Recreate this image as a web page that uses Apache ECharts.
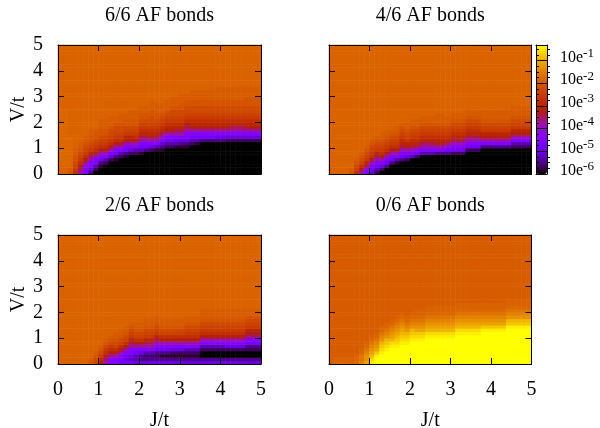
<!DOCTYPE html>
<html><head><meta charset="utf-8">
<style>html,body{margin:0;padding:0;background:#fff}#c{width:600px;height:428px}</style>
<script src="https://cdn.jsdelivr.net/npm/echarts@6/dist/echarts.min.js"></script>
</head><body><div id="c"></div>
<script>
// Titles and tick labels
const panelTitles = ["6/6 AF bonds","4/6 AF bonds","2/6 AF bonds","0/6 AF bonds"];
// Cell levels: letter = position on the colour scale (0 bottom .. 1 top)
const levelLetters = "abcdefghijklmnopqrstuvwABCDEFGH";
const levelValues = [0,.03,.06,.09,.13,.17,.21,.25,.30,.38,.41,.45,.49,.53,.57,.61,.64,.66,.69,.71,.73,.74,.77,.80,.83,.86,.89,.92,.95,.98,1];
// Each panel: 40 columns J=0..5, each column run-length coded from V=0 upward; the last level fills the column up to V=5
const panel66 = ["u3v18u1","u2v18u1","s1t1u2v8u1","o1p1q1r1s2t2u1","j1l1m1o1p1q1r1s1t2u1","h2i1k1m1o1p1q1r1s1t2u1","d1f1h2j1l1n1p1q1r1s2t2u1","a1c1e1h2j1m1o1p1q1r1s2t1u1",
"a2b1d1g1h1j1m1o1p1q1r1s2t3u1","a3c1e1h1j1m1o1p1q1r1s2t3u1","a4c1f1h1j1m1o1p1q1r2s1t3u1","a4b1d1g1h1j1m1o1p1q1r2s1t2u1","a5c1e1h1j1m1o1p1q1r2s1t3u1","a5b1d1g1h1j1m1n1p1q1r1s2t2u1","a6c1f1h1j1m1n1p1q1r1s2t3u1","a6c1e1h1j1m1o1p1q1r1s2t3u1",
"a6b1e1g1h1j1l1n1o1p1q1r1s2t2u1","a7d1g1h1j1l1n1o1p1q1r1s2t2u1","a7c1f1h1j1m1n1o1p1q1r2s2t3u1","a7b1e1h1j1l1n1o1p1q1r1s2t3u1","a7b1d1f1h1j1l1n1o1p1q1r1s1t3u1","a8c1e1g1h1j1m1n1o1p1q1r1s1t3u1","a8c1e1g1h1j1m1n1o1p1q1r2s1t3u1","a8b1e1f1h1j1l1n1o1p1q1r2s1t3u1",
"a8b1d1f1h1j1l1n1o1p1q1r2s2t3u1","a8b1d1f1h2j1l1m1o1p1q1r2s2t2u1","a9c1e1g1h1j1m1n1o1p1q1r2s2t3u1","a9b1e1g1h1j1m1n1o1p1q1r2s2t3u1","a10d1g1h1j1m1n1o1p1q1r2s2t3u1","a10d1g1h1j1m1n1o1p1q1r2s2t3u1","a10d1g1h1j1m1n1o1p1q1r2s2t3u1","a10d1f1h1j1m1n1o1p1q1r2s2t4u1",
"a10d1f1h1j1m1n1o1p1q1r2s2t4u1","a10c1f1h1j1m1n1o1p1q1r2s2t4u1","a10c1f1h1j1l1n1o1p1q1r2s2t4u1","a10c1f1h1j1l1n1o1p1q1r2s2t4u1","a10c1f1h1j1l1n1o1p1q1r2s2t4u1","a10c1f1h1j1m1n1o1p1q1r2s3t3u1","a10c1f1h1j1m1n1o1p1q1r2s3t3u1","a10c1f1h1j1m1n1o1p1q1r2s3t3u1"];
const panel46 = ["u1","u1","u1","u1","s1t1u1","o1q1r1s1t1u1","j1m1o1q1r1s1t1u1","h1i1l1n1p1q1r1s1t1u1",
"f1g1h1j1m1o1p1q1r1s1t1u1","c1e1g1h1j1l1n1p1q1r1s1t1u1","a1c1f1h1j1m1o1p1q1r1s1t2u1","a2d1g1h1j1m1o1p1q1r1s1t2u1","a3d1g1h1j1m1o1p1q1r1s1t1u1","a3b1e1h1j1m1o1p1q1r1s1t2u1","a4d1g1h1j1l1n1o1p1q1r1s1t1u1","a4c1f1h1j1m1n1p1q1r1s1t2u1",
"a5e1h1j1l1n1o1p1q1r1s1t2u1","a5c1g1i1l1n1o1p1q1r1s1t2u1","a6e1h1j1l1n1o1p1q1r1s1t2u1","a6e1h1j1l1n1o1p1q1r1s1t2u1","a6e1h1j1l1n1o1p1q1r1s1t2u1","a6d1h1j1m1n1o1p1q1r1s1t3u1","a6d1h1j1m1n1o1p1q1r1s1t3u1","a6d1g1i1l1n1o1p1q1r1s1t2u1",
"a6c1g1h1j1l1n1o1p1q1r1s1t2u1","a6c1g1h1j1l1n1o1p1q1r1s1t2u1","a6c1g1h1j1l1n1o1p1q1r1s1t2u1","a7c1g1h1j1l1n1o1p1q1r1s1t2u1","a7c1g1h1j1l1n1o1p1q1r1s1t2u1","a7c1g1h1j1l1n1o1p1q1r1s1t2u1","a8d1h1j1m1n1p1q1r1s1t3u1","a8d1h1j1m1n1p1q1r1s1t3u1",
"a8d1h1j1m1n1p1q1r1s1t3u1","a8d1h1j1m1n1p1q1r1s1t3u1","a8d1h1j1m1n1p1q1r1s1t3u1","a8d1h1j1m1n1p1q1r1s1t3u1","a8c1e1h1j1m1n1p1q1r1s1t3u1","a8c1e1h1j1m1n1p1q1r1s1t3u1","a8c1e1h1j1m1n1p1q1r1s1t3u1","a8c1e1h1j1m1n1p1q1r1s1t3u1"];
const panel26 = ["u1","u1","u1","u1","u1","u1","s1t1u1","q1r1s1t1u1",
"m1o1p1r1s1t1u1","j1k1m1o1p1r1s1t1u1","h1i1j1m1o1p1r1s1t1u1","h2j1m1o1q1r1s1t2u1","g1h2j1m1o1q1r1s1t2u1","g1f1g1h1j1m1o1q1r1s1t2u1","g1e1f1h2j1l1n1p1q1r1s1t1u1","f1e2g1h1j1m1o1q1r1s1t2u1",
"f1d2f1h1j1m1o1q1r1s1t2u1","f1d1c1e1h1j1l1n1p1q1r1s1t2u1","f1d1c1e1h1j1l1n1p1q1r1s1t2u1","f1d1c1d1g1h1j1l1n1p1q1r1s1t2u1","f1d1b1d1g1h1j1m1o1q1r1s1t2u1","f1d1b1d1g1h1j1m1o1q1r1s1t2u1","f1d1b1c1f1h1j1m1o1q1r1s1t2u1","f1d1b1c1f1h1j1m1o1q1r1s1t2u1",
"f1d1b1c1f1h1j1m1o1q1r1s1t2u1","f1d1b1c1e1h1j1m1o1p1q1r1s1t2u1","f1d1b1c1e1h1j1m1o1p1q1r1s1t2u1","f1d1b1c1e1h1j1m1o1p1q1r1s1t2u1","f1d1a2c1e1h1j1m1o1p1q1r1s1t3u1","f1d1a2c1e1h1j1m1o1p1q1r1s1t3u1","f1d1a2c1e1h1j1m1o1p1q1r1s1t3u1","f1d1a2c1e1h1j1m1o1p1q1r1s1t3u1",
"f1d1a2c1e1h1j1m1o1p1q1r1s1t3u1","f1d1a2c1f1h1j1m1o1p1q1r1s1t3u1","f1d1a2c1f1h1j1m1o1p1q1r1s1t3u1","f1d1a2c1f1h1j1m1o1p1q1r1s1t3u1","f1d1a2c1f1h1j1m1o1p1q1r1s1t3u1","f1d1a2c1d1g1h1k1m1n1p1q1r1s1t2u1","f1d1a2c1d1g1h1k1m1n1p1q1r1s1t2u1","f1d1a2c1d1g1h1k1m1n1p1q1r1s1t2u1"];
const panel06 = ["t1","v1u1t1","v1u1t1","v1u1t1","u2t1","v2u1t1","A1w2v1u1t1","C1B2A1w1v1u1t1",
"G1F1D1C1B1A1w1v1u1t1","H2G1E1C1B1A1w1v1u1t1","H3G1F1E1D1B1A1w1v1u1t1","H4G1F1E1D1B1A1w1v1u1t1","H5G1F1D1C1B1A1w1v1u1t1","H5G1F1E1D1C1B1A1w1v1u1t1","H6G1F1E1D1C1B1A1w1v1u1t1","H6G1F1E1D1B1A1w1v1u1t1",
"H7G1F1E1D1B1A1w1v1u1t1","H7G1F1E1C1B1A1w1v1u2t1","H7G1F1E1C1B1A1w1v1u2t1","H8G1F1D1C1B1A1w1v1u2t1","H8G1F1D1C1B1A1w1v1u2t1","H8G1F1D1C1B1A1w1v1u2t1","H8G1F1D1C1B1A1w1v1u2t1","H8G1F1D1C1B1A1w1v1u2t1",
"H8G1F1D1C1B1A1w1v1u2t1","H9G1F1D1C1B1A1w1v1u2t1","H9G1F1D1C1B1A1w1v1u2t1","H9G1F1D1C1B1A1w1v1u2t1","H9G1F1D1C1B1A1w1v1u2t1","H9G1F1D1C1B1A1w1v1u2t1","H10G1E1C1B1A1w1v1u2t1","H10G1E1C1B1A1w1v1u2t1",
"H10G1E1C1B1A1w1v1u2t1","H10G1E1C1B1A1w1v1u2t1","H10G1E1C1B1A1w1v1u2t1","H11G1E1D1B1A1w1v1u2t1","H11G1E1D1B1A1w1v1u2t1","H11G1E1D1B1A1w1v1u2t1","H11G1E1D1B1A1w1v1u2t1","H11G1E1D1B1A1w1v1u2t1"];

const FONT = "Liberation Serif";
const panels = [panel66, panel46, panel26, panel06];
const gridBoxes = [
  {left:58,top:45,width:203,height:129},
  {left:329,top:45,width:202.5,height:129},
  {left:58,top:235,width:203,height:129},
  {left:329,top:235,width:202.5,height:129}
];
const cats = Array.from({length:40},(_,i)=>String(i));
function decode(cols){
  const out=[];
  cols.forEach((col,x)=>{
    let y=0, last=null;
    for(const m of col.matchAll(/([A-Za-z])(\d+)/g)){
      last=levelValues[levelLetters.indexOf(m[1])];
      for(let k=0;k<+m[2]&&y<40;k++){ out.push([x,y,last]); y++; }
    }
    while(y<40){ out.push([x,y,last]); y++; }
  });
  return out;
}
// gnuplot's traditional pm3d palette 7,5,15
const palette=[];
for(let i=0;i<=128;i++){
  const t=i/128, r=Math.sqrt(t), g=t*t*t, b=Math.max(0,Math.sin(2*Math.PI*t));
  palette.push("rgb("+Math.round(r*255)+","+Math.round(g*255)+","+Math.round(b*255)+")");
}
const tickLine={show:true,inside:true,length:6,lineStyle:{color:"#000",width:1}};
const frame={show:true,onZero:false,lineStyle:{color:"#000",width:1}};
const xAxes=[],yAxes=[],series=[],titles=[];
gridBoxes.forEach((g,i)=>{
  const bottomRow=i>=2, leftCol=i%2===0;
  xAxes.push({type:"category",gridIndex:i,data:cats,show:false});
  yAxes.push({type:"category",gridIndex:i,data:cats,show:false});
  xAxes.push({type:"value",gridIndex:i,position:"bottom",min:0,max:5,interval:1,z:5,splitLine:{show:false},
    axisLine:frame,axisTick:tickLine,
    axisLabel:{show:bottomRow,margin:16,fontFamily:FONT,fontSize:20,color:"#000"},
    name:bottomRow?"J/t":"",nameLocation:"middle",nameGap:47,nameTextStyle:{fontFamily:FONT,fontSize:20,color:"#000"}});
  xAxes.push({type:"value",gridIndex:i,position:"top",min:0,max:5,interval:1,z:5,splitLine:{show:false},
    axisLine:frame,axisTick:tickLine,axisLabel:{show:false}});
  yAxes.push({type:"value",gridIndex:i,position:"left",min:0,max:5,interval:1,z:5,splitLine:{show:false},
    axisLine:frame,axisTick:tickLine,
    axisLabel:{show:leftCol,margin:15,fontFamily:FONT,fontSize:20,color:"#000"},
    name:leftCol?"V/t":"",nameLocation:"middle",nameRotate:90,nameGap:29,nameTextStyle:{fontFamily:FONT,fontSize:20,color:"#000"}});
  yAxes.push({type:"value",gridIndex:i,position:"right",min:0,max:5,interval:1,z:5,splitLine:{show:false},
    axisLine:frame,axisTick:tickLine,axisLabel:{show:false}});
  series.push({type:"heatmap",xAxisIndex:3*i,yAxisIndex:3*i,data:decode(panels[i]),
    itemStyle:{borderWidth:0},emphasis:{disabled:true},animation:false,z:2});
  titles.push({text:panelTitles[i],left:g.left+g.width/2,top:g.top-39,padding:0,textAlign:"center",
    textStyle:{fontFamily:FONT,fontSize:20,fontWeight:"normal",color:"#000"}});
});
// Colour bar axes
const cb={left:536,top:45,width:11,height:129};
const cbMax=-6+129/22.7;
gridBoxes.push(cb);
xAxes.push({type:"value",gridIndex:4,position:"bottom",min:0,max:1,z:6,axisLine:frame,axisTick:{show:false},axisLabel:{show:false},splitLine:{show:false}});
xAxes.push({type:"value",gridIndex:4,position:"top",min:0,max:1,z:6,axisLine:frame,axisTick:{show:false},axisLabel:{show:false},splitLine:{show:false}});
yAxes.push({type:"value",gridIndex:4,position:"left",min:-6,max:cbMax,interval:1,z:6,axisLine:frame,splitLine:{show:false},
  axisTick:{show:true,inside:true,length:11,lineStyle:{color:"#000",width:1}},
  minorTick:{show:true,splitNumber:4,length:3,lineStyle:{color:"#000",width:1}},axisLabel:{show:false}});
yAxes.push({type:"value",gridIndex:4,position:"right",min:-6,max:cbMax,interval:1,z:6,axisLine:frame,splitLine:{show:false},
  axisTick:{show:false},
  minorTick:{show:true,splitNumber:4,length:3,lineStyle:{color:"#000",width:1}},
  axisLabel:{show:true,margin:13,showMaxLabel:false,fontFamily:FONT,fontSize:16,color:"#000",align:"left",padding:[0,0,6,0],
    formatter:v=>"10e{sup|"+v+"}",
    rich:{sup:{fontFamily:FONT,fontSize:13,color:"#000",verticalAlign:"top",padding:[0,0,8,0]}}}});
const option={
  animation:false,backgroundColor:"#fff",
  title:titles,
  grid:gridBoxes.map(g=>Object.assign({containLabel:false,show:false,outerBoundsMode:"none"},g)),
  xAxis:xAxes,yAxis:yAxes,series:series,
  visualMap:{type:"continuous",min:0,max:1,dimension:2,seriesIndex:[0,1,2,3],show:true,calculable:false,
    itemWidth:11,itemHeight:129,left:536,top:45,padding:0,text:null,orient:"vertical",z:4,hoverLink:false,
    inRange:{color:palette}}
};
const chart=echarts.init(document.getElementById("c"),null,{renderer:"canvas"});
chart.setOption(option);
</script></body></html>
